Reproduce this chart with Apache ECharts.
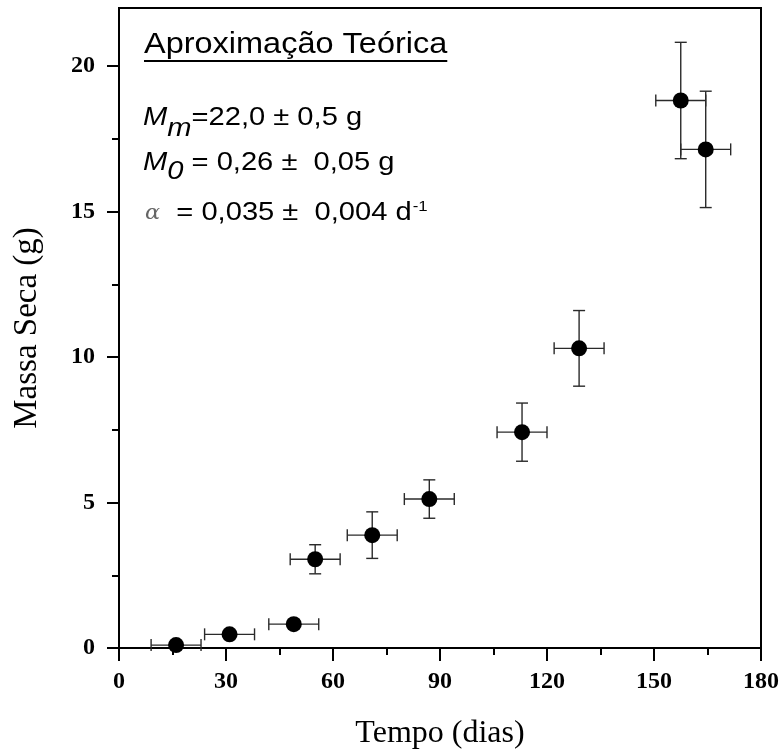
<!DOCTYPE html>
<html><head><meta charset="utf-8">
<script src="https://cdn.jsdelivr.net/npm/echarts@6/dist/echarts.min.js"></script>
<style>html,body{margin:0;padding:0;background:#fff}#c{width:783px;height:754px}</style>
</head><body><div id="c"></div>
<script>
// ---- data ----
const tempo      = [16, 31, 49, 55, 71, 87, 113, 129, 157.5, 164.5];
const massa      = [0.1, 0.47, 0.82, 3.05, 3.88, 5.12, 7.42, 10.3, 18.82, 17.14];
const erroTempo  = [7, 7, 7, 7, 7, 7, 7, 7, 7, 7];
const erroMassa  = [0.1, 0.12, 0.15, 0.5, 0.8, 0.66, 1.0, 1.3, 2.0, 2.0];
const yTicks      = [0, 5, 10, 15, 20];
const yMinorTicks = [2.5, 7.5, 12.5, 17.5];
const tituloX = 'Tempo (dias)';
const tituloY = 'Massa Seca (g)';
const tituloAnot = 'Aproximação Teórica';

// ---- layout helpers ----
const cvs = document.createElement('canvas').getContext('2d');
function tw(font, t){ cvs.font = font; return cvs.measureText(t).width; }
const SX = 1.12;
const S = 26;
const fSans = S + 'px "Liberation Sans"';
const fSansIt = 'italic ' + S + 'px "Liberation Sans"';
const graphics = [];
function piece(text, font, x, mid, fill){
  graphics.push({type:'text', x:x, y:mid, scaleX:SX, z:100,
    style:{text:text, font:font, fill:fill||'#000', align:'left', verticalAlign:'middle'}});
  return x + tw(font, text) * SX;
}
// title
const fTitle = '29px "Liberation Sans"';
const titleW = tw(fTitle, tituloAnot) * SX;
piece(tituloAnot, fTitle, 144, 55 - 0.3465*29);
graphics.push({type:'line', z:100, shape:{x1:144, y1:61, x2:144+titleW, y2:61}, style:{stroke:'#000', lineWidth:2}});
// line 1
let x = 143;
x = piece('M', fSansIt, x, 127 - 0.3465*S);
x = piece('m', fSansIt, x, 138 - 0.3465*S);
piece('=22,0 ± 0,5 g', fSans, x, 127 - 0.3465*S);
// line 2
x = 143;
x = piece('M', fSansIt, x, 172 - 0.3465*S);
x = piece('0', fSansIt, x, 181 - 0.3465*S);
piece(' = 0,26 ±  0,05 g', fSans, x, 172 - 0.3465*S);
// line 3
x = 143;
x = piece('α', 'italic 20px "DejaVu Serif"', x + 2, 222 - 0.3465*S + 1, '#666');
x = piece('  = 0,035 ±  0,004 d', fSans, x, 222 - 0.3465*S);
piece('-1', '15px "Liberation Sans"', x + 1, 207);

const chart = echarts.init(document.getElementById('c'), null, {renderer:'canvas'});
const labelFont = {fontFamily:'"Liberation Serif"', fontWeight:'bold', fontSize:24, color:'#000'};
chart.setOption({
  animation:false,
  backgroundColor:'#fff',
  grid:{left:119, right:22, top:8, bottom:106, show:true, borderColor:'#000', borderWidth:2, containLabel:false, outerBoundsMode:'none'},
  xAxis:{type:'value', min:0, max:180, interval:30,
    name:tituloX, nameLocation:'middle', nameGap:70,
    nameTextStyle:{fontFamily:'"Liberation Serif"', fontSize:32, color:'#000'},
    axisLine:{show:true, lineStyle:{color:'#000', width:2}},
    axisTick:{show:true, inside:false, length:13, lineStyle:{color:'#000', width:2}},
    minorTick:{show:true, splitNumber:2, length:7, lineStyle:{color:'#000', width:2}},
    axisLabel:Object.assign({margin:22}, labelFont),
    splitLine:{show:false}, minorSplitLine:{show:false}},
  yAxis:[{type:'value', min:0, max:22, interval:5, position:'left',
    name:tituloY, nameLocation:'middle', nameGap:75, nameRotate:90,
    nameTextStyle:{fontFamily:'"Liberation Serif"', fontSize:33, color:'#000'},
    axisLine:{show:true, lineStyle:{color:'#000', width:2}},
    axisTick:{show:true, inside:false, length:12, customValues:yTicks, lineStyle:{color:'#000', width:2}},
    axisLabel:Object.assign({margin:24, customValues:yTicks,
      formatter:function(v){ return (v % 5 === 0) ? String(v) : ''; }}, labelFont),
    splitLine:{show:false}},
   {type:'value', min:0, max:22, position:'left', offset:0,
    axisLine:{show:false},
    axisTick:{show:true, inside:false, length:7, customValues:yMinorTicks, lineStyle:{color:'#000', width:2}},
    axisLabel:{show:false}, splitLine:{show:false}}],
  graphic:graphics,
  series:[
    {type:'custom', z:2, xAxisIndex:0, yAxisIndex:0,
     data:tempo.map(function(t,i){ return [t, massa[i], erroTempo[i], erroMassa[i]]; }),
     encode:{x:0, y:1},
     renderItem:function(params, api){
       const xv=api.value(0), yv=api.value(1), ex=api.value(2), ey=api.value(3);
       const l=api.coord([xv-ex,yv]), r=api.coord([xv+ex,yv]);
       const t=api.coord([xv,yv+ey]), b=api.coord([xv,yv-ey]);
       const c=6, st={stroke:'#2a2a2a', lineWidth:1.4};
       return {type:'group', children:[
         {type:'line', shape:{x1:l[0],y1:l[1],x2:r[0],y2:r[1]}, style:st},
         {type:'line', shape:{x1:l[0],y1:l[1]-c,x2:l[0],y2:l[1]+c}, style:st},
         {type:'line', shape:{x1:r[0],y1:r[1]-c,x2:r[0],y2:r[1]+c}, style:st},
         {type:'line', shape:{x1:t[0],y1:t[1],x2:b[0],y2:b[1]}, style:st},
         {type:'line', shape:{x1:t[0]-c,y1:t[1],x2:t[0]+c,y2:t[1]}, style:st},
         {type:'line', shape:{x1:b[0]-c,y1:b[1],x2:b[0]+c,y2:b[1]}, style:st}
       ]};
     }},
    {type:'scatter', z:3, xAxisIndex:0, yAxisIndex:0,
     data:tempo.map(function(t,i){ return [t, massa[i]]; }),
     symbol:'circle', symbolSize:16, itemStyle:{color:'#000', opacity:1}}
  ]
});
</script></body></html>
